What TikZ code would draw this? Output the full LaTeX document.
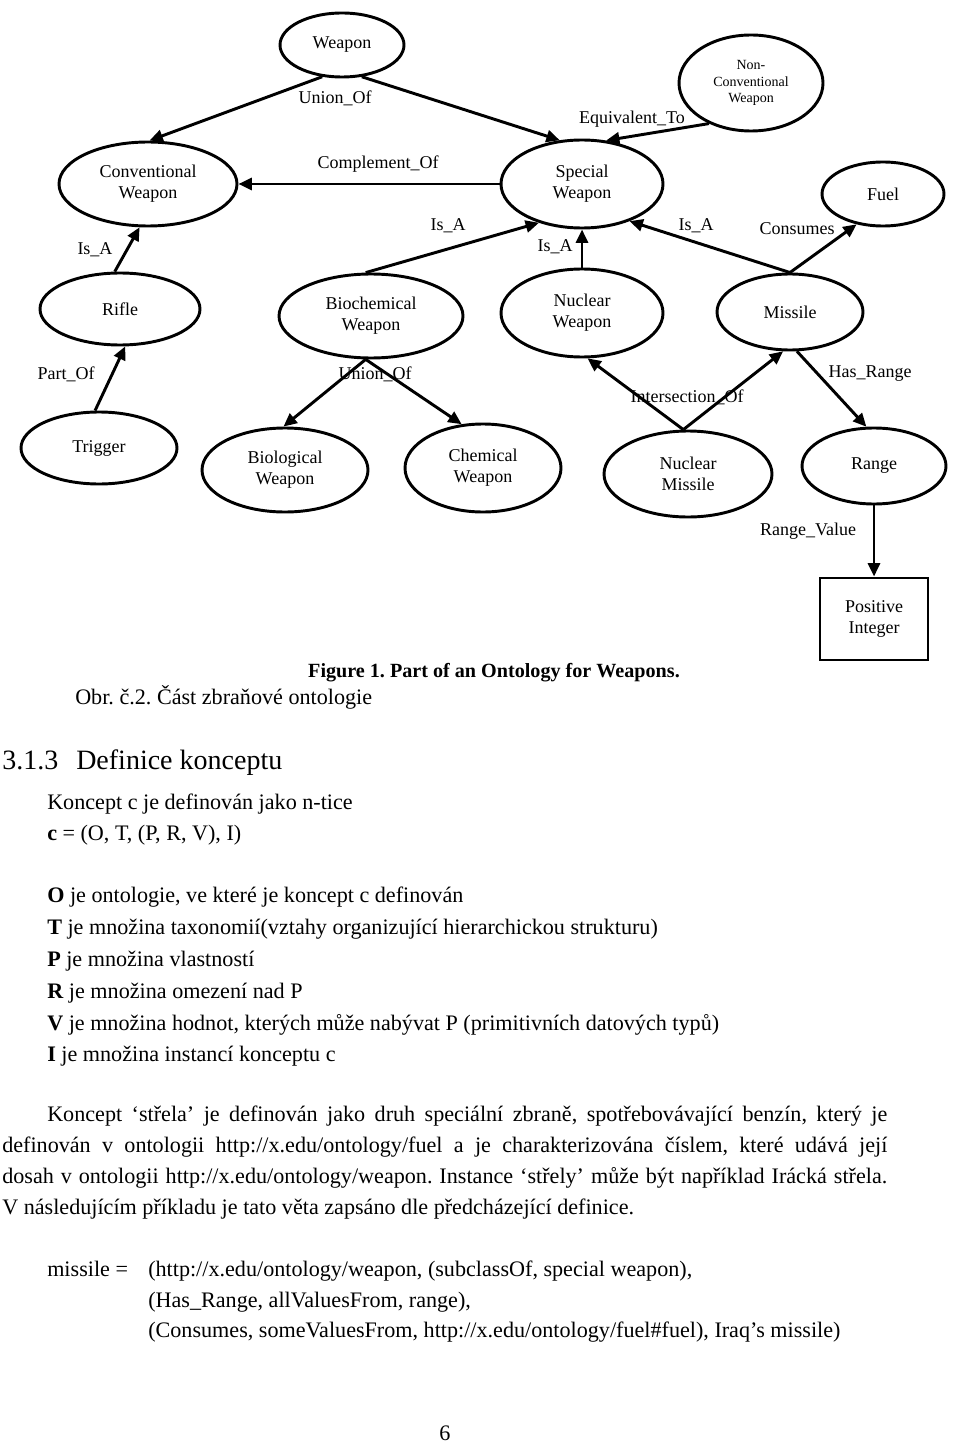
\documentclass[tikz,border=0pt]{standalone}
\usepackage{fontspec}
\setmainfont{Liberation Serif}
\usetikzlibrary{shapes.geometric}
\usetikzlibrary{arrows.meta}

\begin{document}
\frenchspacing
\begin{tikzpicture}[x=0.75pt, y=-0.75pt,
    concept/.style={ellipse, draw, line width=2.2pt, inner sep=0pt, align=center, font=\fontsize{13.5}{16}\selectfont},
    datatype/.style={rectangle, draw, line width=2.2pt, inner sep=0pt, align=center, font=\fontsize{13.5}{16}\selectfont},
    rel/.style={inner sep=0pt, font=\fontsize{13.5}{15}\selectfont},
    link/.style={line width=2.2pt, -{Triangle[length=10pt,width=9pt]}},
    body/.style={anchor=base west, inner sep=0pt, font=\fontsize{16.6}{20}\selectfont}]
  \useasboundingbox (0,0) rectangle (960,1444);

  % ontology graph
  \node[concept, minimum width=93pt, minimum height=48pt] (weapon) at (342,45) {Weapon};
  \node[concept, minimum width=133.5pt, minimum height=63pt] (conv_weapon) at (148,184) {Conventional\\Weapon};
  \node[concept, minimum width=121.5pt, minimum height=66pt] (spec_weapon) at (582,184) {Special\\Weapon};
  \node[concept, minimum width=108pt, minimum height=72pt, font=\fontsize{10.5}{12.5}\selectfont] (nonconv_weapon) at (751,83) {Non-\\Conventional\\Weapon};
  \node[concept, minimum width=91.5pt, minimum height=48pt] (fuel) at (883,194) {Fuel};
  \node[concept, minimum width=120pt, minimum height=54pt] (rifle) at (120,309) {Rifle};
  \node[concept, minimum width=138pt, minimum height=63pt] (biochem_weapon) at (371,316) {Biochemical\\Weapon};
  \node[concept, minimum width=121.5pt, minimum height=66pt] (nuclear_weapon) at (582,313) {Nuclear\\Weapon};
  \node[concept, minimum width=109.5pt, minimum height=57pt] (missile) at (790,312) {Missile};
  \node[concept, minimum width=117pt, minimum height=54pt] (trigger) at (99,448) {Trigger};
  \node[concept, minimum width=124.5pt, minimum height=63pt] (bio_weapon) at (285,470) {Biological\\Weapon};
  \node[concept, minimum width=117pt, minimum height=66pt] (chem_weapon) at (483,468) {Chemical\\Weapon};
  \node[concept, minimum width=126pt, minimum height=64.5pt] (nuclear_missile) at (688,474) {Nuclear\\Missile};
  \node[concept, minimum width=108pt, minimum height=57pt] (range) at (874,466) {Range};
  \node[datatype, minimum width=81pt, minimum height=61.5pt] (pos_int) at (874,619) {Positive\\Integer};

  % relation labels
  \node[rel] (lbl_union_top) at (335,98) {Union\_Of};
  \node[rel] (lbl_complement) at (378,164) {Complement\_Of};
  \node[rel] (lbl_equivalent) at (632,119) {Equivalent\_To};
  \node[rel] (lbl_isa_rifle) at (95,250) {Is\_A};
  \node[rel] (lbl_isa_biochem) at (448,226) {Is\_A};
  \node[rel] (lbl_isa_nuclear) at (555,247) {Is\_A};
  \node[rel] (lbl_isa_missile) at (696,226) {Is\_A};
  \node[rel] (lbl_consumes) at (797,229) {Consumes};
  \node[rel] (lbl_part_of) at (66,374) {Part\_Of};
  \node[rel] (lbl_union_bottom) at (375,374) {Union\_Of};
  \node[rel] (lbl_intersection) at (687,397) {Intersection\_Of};
  \node[rel] (lbl_has_range) at (870,374) {Has\_Range};
  \node[rel] (lbl_range_value) at (808,531) {Range\_Value};

  \draw[link] (weapon.238) -- (conv_weapon.88);
  \draw[link] (weapon.302) -- (spec_weapon.117);
  \draw[link] (spec_weapon.west) -- (conv_weapon.east);
  \draw[link] (nonconv_weapon.224) -- (spec_weapon.61);
  \draw[link] (rifle.98) -- (conv_weapon.259);
  \draw[link] (biochem_weapon.97) -- (spec_weapon.222);
  \draw[link] (nuclear_weapon.north) -- (spec_weapon.south);
  \draw[link] (missile.north) -- (spec_weapon.322);
  \draw[link] (missile.north) -- (fuel.229);
  \draw[link] (trigger.96) -- (rifle.278);
  \draw[link] (biochem_weapon.263) -- (bio_weapon.92);
  \draw[link] (biochem_weapon.263) -- (chem_weapon.116);
  \draw[link] (nuclear_missile.96) -- (nuclear_weapon.277);
  \draw[link] (nuclear_missile.96) -- (missile.260);
  \draw[link] (missile.280) -- (range.101);
  \draw[link] (range.south) -- (pos_int.north);

  \node[inner sep=0pt, font=\bfseries\fontsize{15.1}{18}\selectfont] (fig_caption) at (494,673) {Figure 1. Part of an Ontology for Weapons.};

  % text of the page
  \node[body] (obr_caption) at (75,704) {Obr. č.2. Část zbraňové ontologie};
  \node[body, font=\fontsize{21}{24}\selectfont] (sec_number) at (2,769) {3.1.3};
  \node[body, font=\fontsize{21}{24}\selectfont] (sec_title) at (76,769) {Definice konceptu};
  \node[body] (def_intro) at (47,809) {Koncept c je definován jako n-tice};
  \node[body] (def_tuple) at (47,840) {\textbf{c} = (O, T, (P, R, V), I)};
  \node[body] (def_o) at (47,902) {\textbf{O} je ontologie, ve které je koncept c definován};
  \node[body] (def_t) at (47,934) {\textbf{T} je množina taxonomií(vztahy organizující hierarchickou strukturu)};
  \node[body] (def_p) at (47,966) {\textbf{P} je množina vlastností};
  \node[body] (def_r) at (47,998) {\textbf{R} je množina omezení nad P};
  \node[body] (def_v) at (47,1030) {\textbf{V} je množina hodnot, kterých může nabývat P (primitivních datových typů)};
  \node[body] (def_i) at (47,1061) {\textbf{I} je množina instancí konceptu c};

  \node[body] (par_line1) at (47,1121) {\makebox[630pt][s]{Koncept ‘střela’ je definován jako druh speciální zbraně, spotřebovávající benzín, který je}};
  \node[body] (par_line2) at (2,1152) {\makebox[663.75pt][s]{definován v ontologii http://x.edu/ontology/fuel a je charakterizována číslem, které udává její}};
  \node[body] (par_line3) at (2,1183) {\makebox[663.75pt][s]{dosah v ontologii http://x.edu/ontology/weapon. Instance ‘střely’ může být například Irácká střela.}};
  \node[body] (par_line4) at (2,1214) {V následujícím příkladu je tato věta zapsáno dle předcházející definice.};

  \node[body] (ex_name) at (47,1276) {missile =};
  \node[body] (ex_line1) at (148,1276) {(http://x.edu/ontology/weapon, (subclassOf, special weapon),};
  \node[body] (ex_line2) at (148,1307) {(Has\_Range, allValuesFrom, range),};
  \node[body] (ex_line3) at (148,1337) {(Consumes, someValuesFrom, http://x.edu/ontology/fuel\#fuel), Iraq’s missile)};

  \node[body, anchor=center] (page_number) at (445,1433) {6};
\end{tikzpicture}
\end{document}
